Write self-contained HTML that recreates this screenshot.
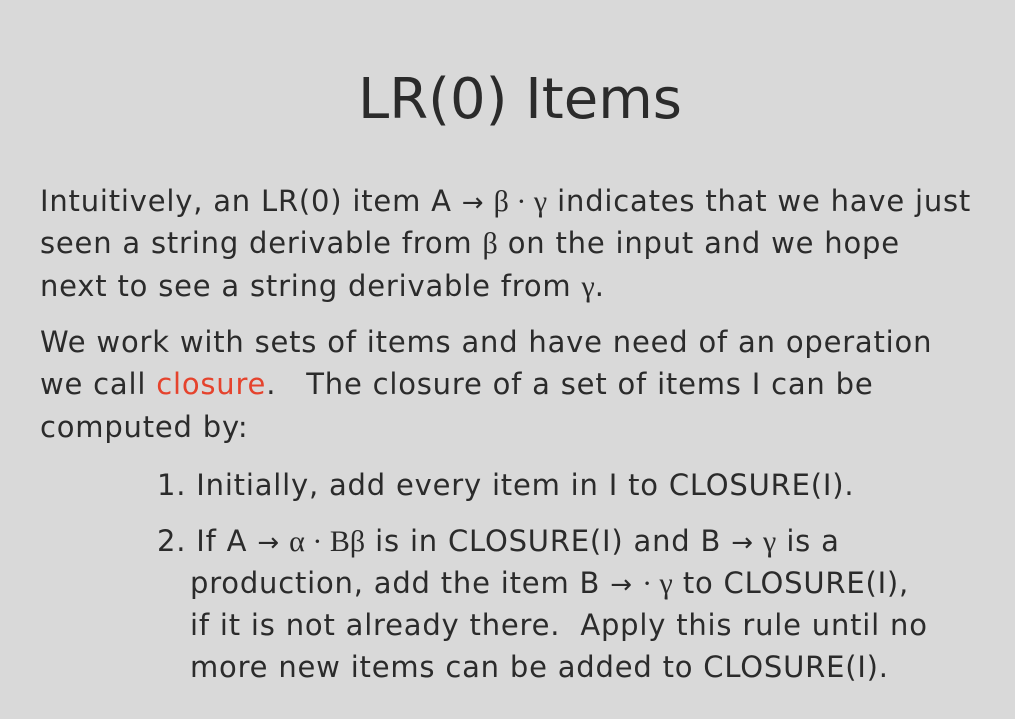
<!DOCTYPE html>
<html><head><meta charset="utf-8"><style>
html,body{margin:0;padding:0}
body{width:1015px;height:719px;background:#d9d9d9;position:relative;overflow:hidden;font-family:"DejaVu Sans","Liberation Sans",sans-serif;color:#2b2b2b}
.l{position:absolute;white-space:nowrap;font-size:29px;line-height:40px;letter-spacing:0.8px;font-weight:normal}
.g{font-family:"Liberation Serif",serif;font-size:30px;letter-spacing:0}
.a{font-family:"DejaVu Sans",sans-serif;font-size:26px;letter-spacing:0}
.r{color:#e5432d}
.t{position:absolute;left:0;width:1040px;text-align:center;top:62px;font-size:56px;line-height:76px;font-weight:normal;letter-spacing:0px;color:#2b2b2b}
</style></head><body>
<div class="t">LR(0) Items</div>
<div class="l" style="left:40px;top:181px">Intuitively, an LR(0) item A <span class="a">→</span> <span class="g">β · γ</span> indicates that we have just</div>
<div class="l" style="left:40px;top:223px">seen a string derivable from <span class="g">β</span> on the input and we hope</div>
<div class="l" style="left:40px;top:266px">next to see a string derivable from <span class="g">γ</span>.</div>
<div class="l" style="left:40px;top:322px">We work with sets of items and have need of an operation</div>
<div class="l" style="left:40px;top:364px">we call <span class="r">closure</span>.&nbsp;&nbsp; The closure of a set of items I can be</div>
<div class="l" style="left:40px;top:407px">computed by:</div>
<div class="l" style="left:157px;top:465px">1. Initially, add every item in I to CLOSURE(I).</div>
<div class="l" style="left:157px;top:521px">2. If A <span class="a">→</span> <span class="g">α · Bβ</span> is in CLOSURE(I) and B <span class="a">→</span> <span class="g">γ</span> is a</div>
<div class="l" style="left:190px;top:563px">production, add the item B <span class="a">→</span> <span class="g">· γ</span> to CLOSURE(I),</div>
<div class="l" style="left:190px;top:605px">if it is not already there.&nbsp; Apply this rule until no</div>
<div class="l" style="left:190px;top:647px">more new items can be added to CLOSURE(I).</div>
</body></html>
